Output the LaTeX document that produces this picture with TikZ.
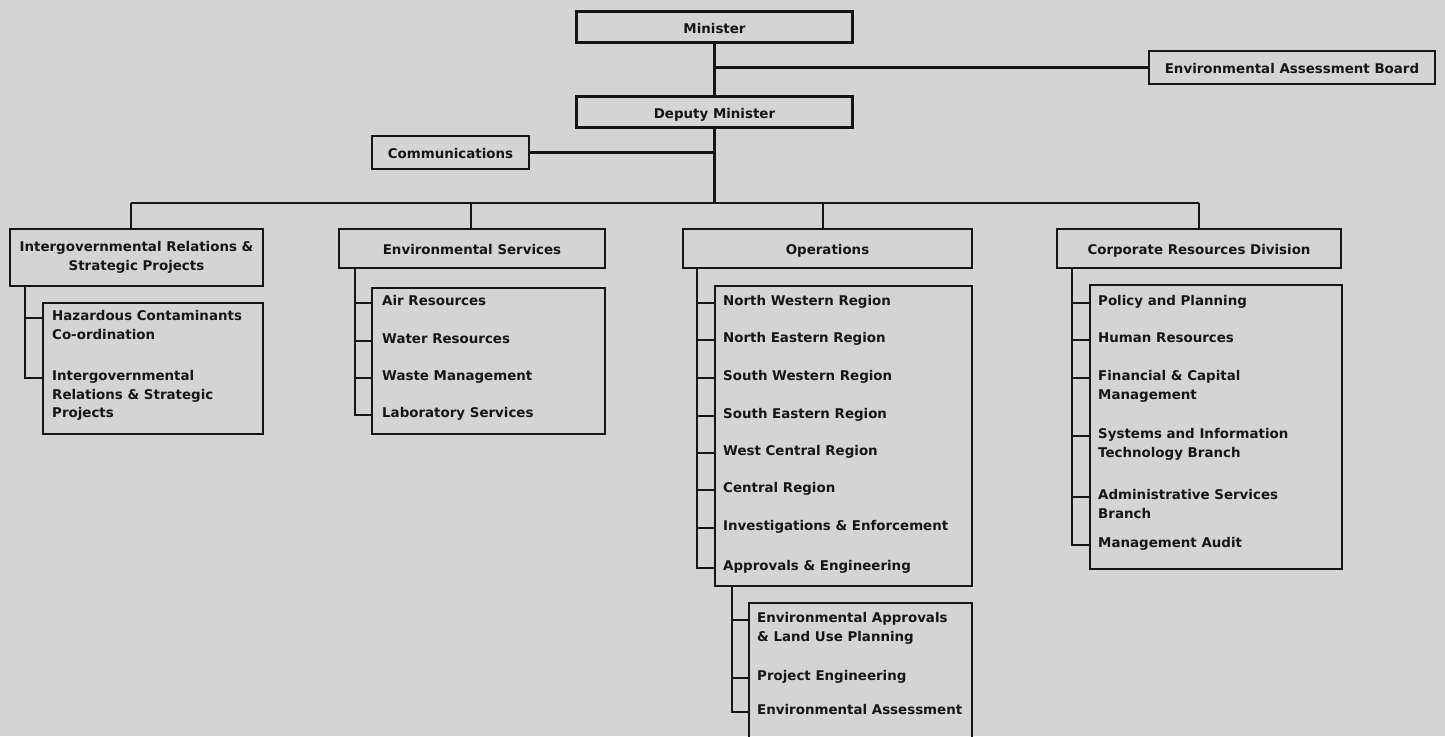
\documentclass[tikz,border=0pt]{standalone}
\usepackage{fontspec}
\setmainfont{DejaVu Sans}
\definecolor{paper}{RGB}{212,212,212}
\definecolor{ink}{RGB}{22,22,22}
\newcommand{\mlines}[1]{\begin{tabular}[t]{@{}l@{}}#1\end{tabular}}
\newcommand{\clines}[1]{\begin{tabular}{@{}c@{}}#1\end{tabular}}
\begin{document}
\begin{tikzpicture}[x=1pt,y=-1pt,
  every node/.style={font=\fontsize{13.4}{18.5}\selectfont\bfseries, text=ink},
  hbox/.style={draw=ink, line width=2.6pt, inner sep=0pt, rectangle},
  stext/.style={text height=12.6pt, text depth=0pt},
  sbox/.style={draw=ink, line width=2.6pt, inner sep=0pt, rectangle},
  item/.style={anchor=mid west, inner sep=0pt},
  ln/.style={draw=ink, line width=2.2pt, line join=miter}]
\useasboundingbox (0,0) rectangle (1445,736);
\fill[paper] (0,0) rectangle (1445,736);
\clip (0,0) rectangle (1445,736);

% top level
\node[hbox,stext,minimum width=276pt,minimum height=31pt] (min) at (714.5,27) {Minister};
\node[hbox,stext,minimum width=276pt,minimum height=31pt] (dep) at (714.5,112) {Deputy Minister};
\node[hbox,stext,minimum width=286pt,minimum height=33pt] (eab) at (1292,67.5) {Environmental Assessment Board};
\node[hbox,stext,minimum width=157pt,minimum height=33pt] (com) at (450.5,152.5) {Communications};

% divisions
\node[hbox,minimum width=253pt,minimum height=57pt] (ig) at (136.5,257.5) {\clines{Intergovernmental Relations \&\\Strategic Projects}};
\node[hbox,stext,minimum width=266pt,minimum height=39pt] (es) at (472,248.5) {Environmental Services};
\node[hbox,stext,minimum width=289pt,minimum height=39pt] (op) at (827.5,248.5) {Operations};
\node[hbox,stext,minimum width=284pt,minimum height=39pt] (cr) at (1199,248.5) {Corporate Resources Division};

% sub boxes
\node[sbox,minimum width=220pt,minimum height=131pt] (igs) at (153,368.5) {};
\node[sbox,minimum width=233pt,minimum height=146pt] (ess) at (488.5,361) {};
\node[sbox,minimum width=257pt,minimum height=300pt] (ops) at (843.5,436) {};
\node[sbox,minimum width=223pt,minimum height=142pt] (aes) at (860.5,674) {};
\node[sbox,minimum width=252pt,minimum height=284pt] (crs) at (1216,427) {};

% items: Intergovernmental
\node[item] (i1) at (52,318) {\mlines{Hazardous Contaminants\\Co-ordination}};
\node[item] (i2) at (52,378) {\mlines{Intergovernmental\\Relations \& Strategic\\Projects}};
% items: Environmental Services
\node[item] (e1) at (382,303) {Air Resources};
\node[item] (e2) at (382,341) {Water Resources};
\node[item] (e3) at (382,378) {Waste Management};
\node[item] (e4) at (382,415) {Laboratory Services};
% items: Operations
\node[item] (o1) at (723,303) {North Western Region};
\node[item] (o2) at (723,340) {North Eastern Region};
\node[item] (o3) at (723,378) {South Western Region};
\node[item] (o4) at (723,416) {South Eastern Region};
\node[item] (o5) at (723,453) {West Central Region};
\node[item] (o6) at (723,490) {Central Region};
\node[item] (o7) at (723,528) {Investigations \& Enforcement};
\node[item] (o8) at (723,568) {Approvals \& Engineering};
% items: Approvals & Engineering
\node[item] (a1) at (757,620) {\mlines{Environmental Approvals\\\& Land Use Planning}};
\node[item] (a2) at (757,678) {Project Engineering};
\node[item] (a3) at (757,712) {Environmental Assessment};
% items: Corporate
\node[item] (c1) at (1098,303) {Policy and Planning};
\node[item] (c2) at (1098,340) {Human Resources};
\node[item] (c3) at (1098,378) {\mlines{Financial \& Capital\\Management}};
\node[item] (c4) at (1098,436) {\mlines{Systems and Information\\Technology Branch}};
\node[item] (c5) at (1098,497) {\mlines{Administrative Services\\Branch}};
\node[item] (c6) at (1098,545) {Management Audit};

% top connectors
\draw[ln] (min) -- (dep);
\draw[ln] (min.south |- eab.west) -- (eab.west);
\draw[ln] (com.east) -- (com.east -| dep.south);
\coordinate (b1) at (131,203);
\coordinate (b2) at (471,203);
\coordinate (b3) at (823,203);
\coordinate (b4) at (1199,203);
\draw[ln] (dep.south) -- (dep.south |- b1);
\draw[ln] (b1) -- (b4);
\draw[ln] (b1) -- (b1 |- ig.north);
\draw[ln] (b2) -- (b2 |- es.north);
\draw[ln] (b3) -- (b3 |- op.north);
\draw[ln] (b4) -- (b4 |- cr.north);

% spines
\coordinate (sig) at (25,0);
\coordinate (ses) at (355,0);
\coordinate (sop) at (697,0);
\coordinate (sae) at (732,0);
\coordinate (scr) at (1072,0);

\draw[ln] (sig |- ig.south) |- (igs.west |- i2.mid west);
\draw[ln] (sig |- i1.mid west) -- (igs.west |- i1.mid west);

\draw[ln] (ses |- es.south) |- (ess.west |- e4.mid west);
\foreach \n in {e1,e2,e3}
  \draw[ln] (ses |- \n.mid west) -- (ess.west |- \n.mid west);

\draw[ln] (sop |- op.south) |- (ops.west |- o8.mid west);
\foreach \n in {o1,o2,o3,o4,o5,o6,o7}
  \draw[ln] (sop |- \n.mid west) -- (ops.west |- \n.mid west);

\draw[ln] (sae |- ops.south) |- (aes.west |- a3.mid west);
\foreach \n in {a1,a2}
  \draw[ln] (sae |- \n.mid west) -- (aes.west |- \n.mid west);

\draw[ln] (scr |- cr.south) |- (crs.west |- c6.mid west);
\foreach \n in {c1,c2,c3,c4,c5}
  \draw[ln] (scr |- \n.mid west) -- (crs.west |- \n.mid west);
\end{tikzpicture}
\end{document}
